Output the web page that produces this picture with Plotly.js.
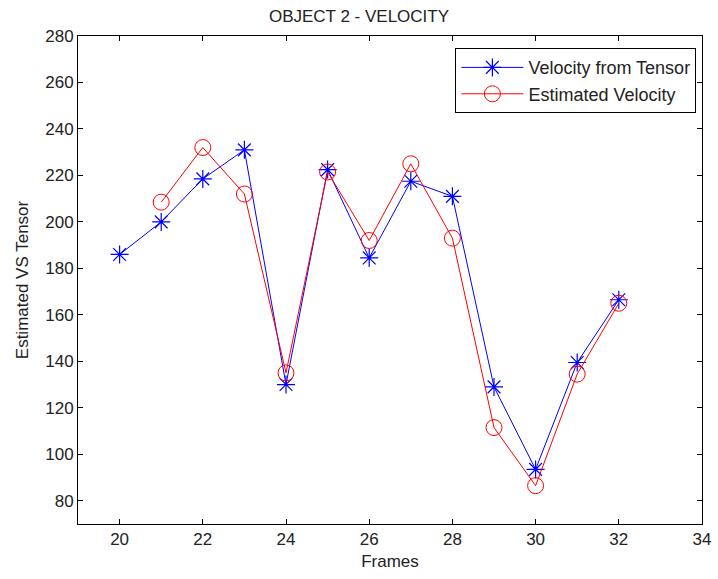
<!DOCTYPE html>
<html>
<head>
<meta charset="utf-8">
<script src="https://cdn.plot.ly/plotly-3.0.1.min.js"></script>
<style>html,body{margin:0;padding:0;background:#fff;}#chart{width:718px;height:579px;}</style>
</head>
<body>
<div id="chart"></div>
<script>
var framesTensor = [20, 21, 22, 23, 24, 25, 26, 27, 28, 29, 30, 31, 32];
var velocityTensor = [186, 200, 218.5, 231, 130, 222.5, 184.5, 217.5, 211, 129, 93.5, 139.5, 166.5];
var framesEstimated = [21, 22, 23, 24, 25, 26, 27, 28, 29, 30, 31, 32];
var velocityEstimated = [208.5, 232, 212, 135, 221.5, 192, 225, 193, 111.5, 86.5, 134.5, 165];
var xTicks = [20, 22, 24, 26, 28, 30, 32, 34];
var yTicks = [80, 100, 120, 140, 160, 180, 200, 220, 240, 260, 280];

var font = 'Arial, "Liberation Sans", sans-serif';
var traces = [
  {
    x: framesTensor, y: velocityTensor, type: 'scatter', mode: 'lines+markers',
    name: 'Velocity from Tensor',
    line: {color: '#0000ff', width: 1},
    marker: {symbol: 'asterisk-open', size: 15, color: '#0000ff', line: {color: '#0000ff', width: 1.2}}
  },
  {
    x: framesEstimated, y: velocityEstimated, type: 'scatter', mode: 'lines+markers',
    name: 'Estimated Velocity',
    line: {color: '#ff0000', width: 1},
    marker: {symbol: 'circle-open', size: 16, color: '#ff0000', line: {color: '#ff0000', width: 1}}
  }
];
var axisCommon = {
  showgrid: false, zeroline: false, showline: true, linecolor: '#000', linewidth: 1,
  mirror: 'ticks', ticks: 'inside', ticklen: 5, tickcolor: '#000', tickwidth: 1,
  tickfont: {family: font, size: 17, color: '#222'}
};
var layout = {
  width: 718, height: 579,
  margin: {l: 78, r: 16, t: 36, b: 55},
  paper_bgcolor: '#fff', plot_bgcolor: '#fff',
  title: {text: 'OBJECT 2 - VELOCITY', font: {family: font, size: 17, color: '#222'}, x: 0.5, xanchor: 'center', y: 0.973, yanchor: 'middle'},
  xaxis: Object.assign({}, axisCommon, {
    range: [19, 34], tickvals: xTicks, ticktext: xTicks.map(String),
    title: {text: 'Frames', font: {family: font, size: 17, color: '#222'}, standoff: 6}
  }),
  yaxis: Object.assign({}, axisCommon, {
    range: [70, 280], tickvals: yTicks, ticktext: yTicks.map(String),
    title: {text: 'Estimated VS Tensor', font: {family: font, size: 17, color: '#222'}, standoff: 12}
  }),
  showlegend: true,
  legend: {
    x: 0.991, y: 0.975, xanchor: 'right', yanchor: 'top',
    bgcolor: '#fff', bordercolor: '#000', borderwidth: 1,
    font: {family: font, size: 18, color: '#222'},
    itemwidth: 62, tracegroupgap: 0
  }
};
Plotly.newPlot('chart', traces, layout, {displayModeBar: false, staticPlot: true});
</script>
</body>
</html>
